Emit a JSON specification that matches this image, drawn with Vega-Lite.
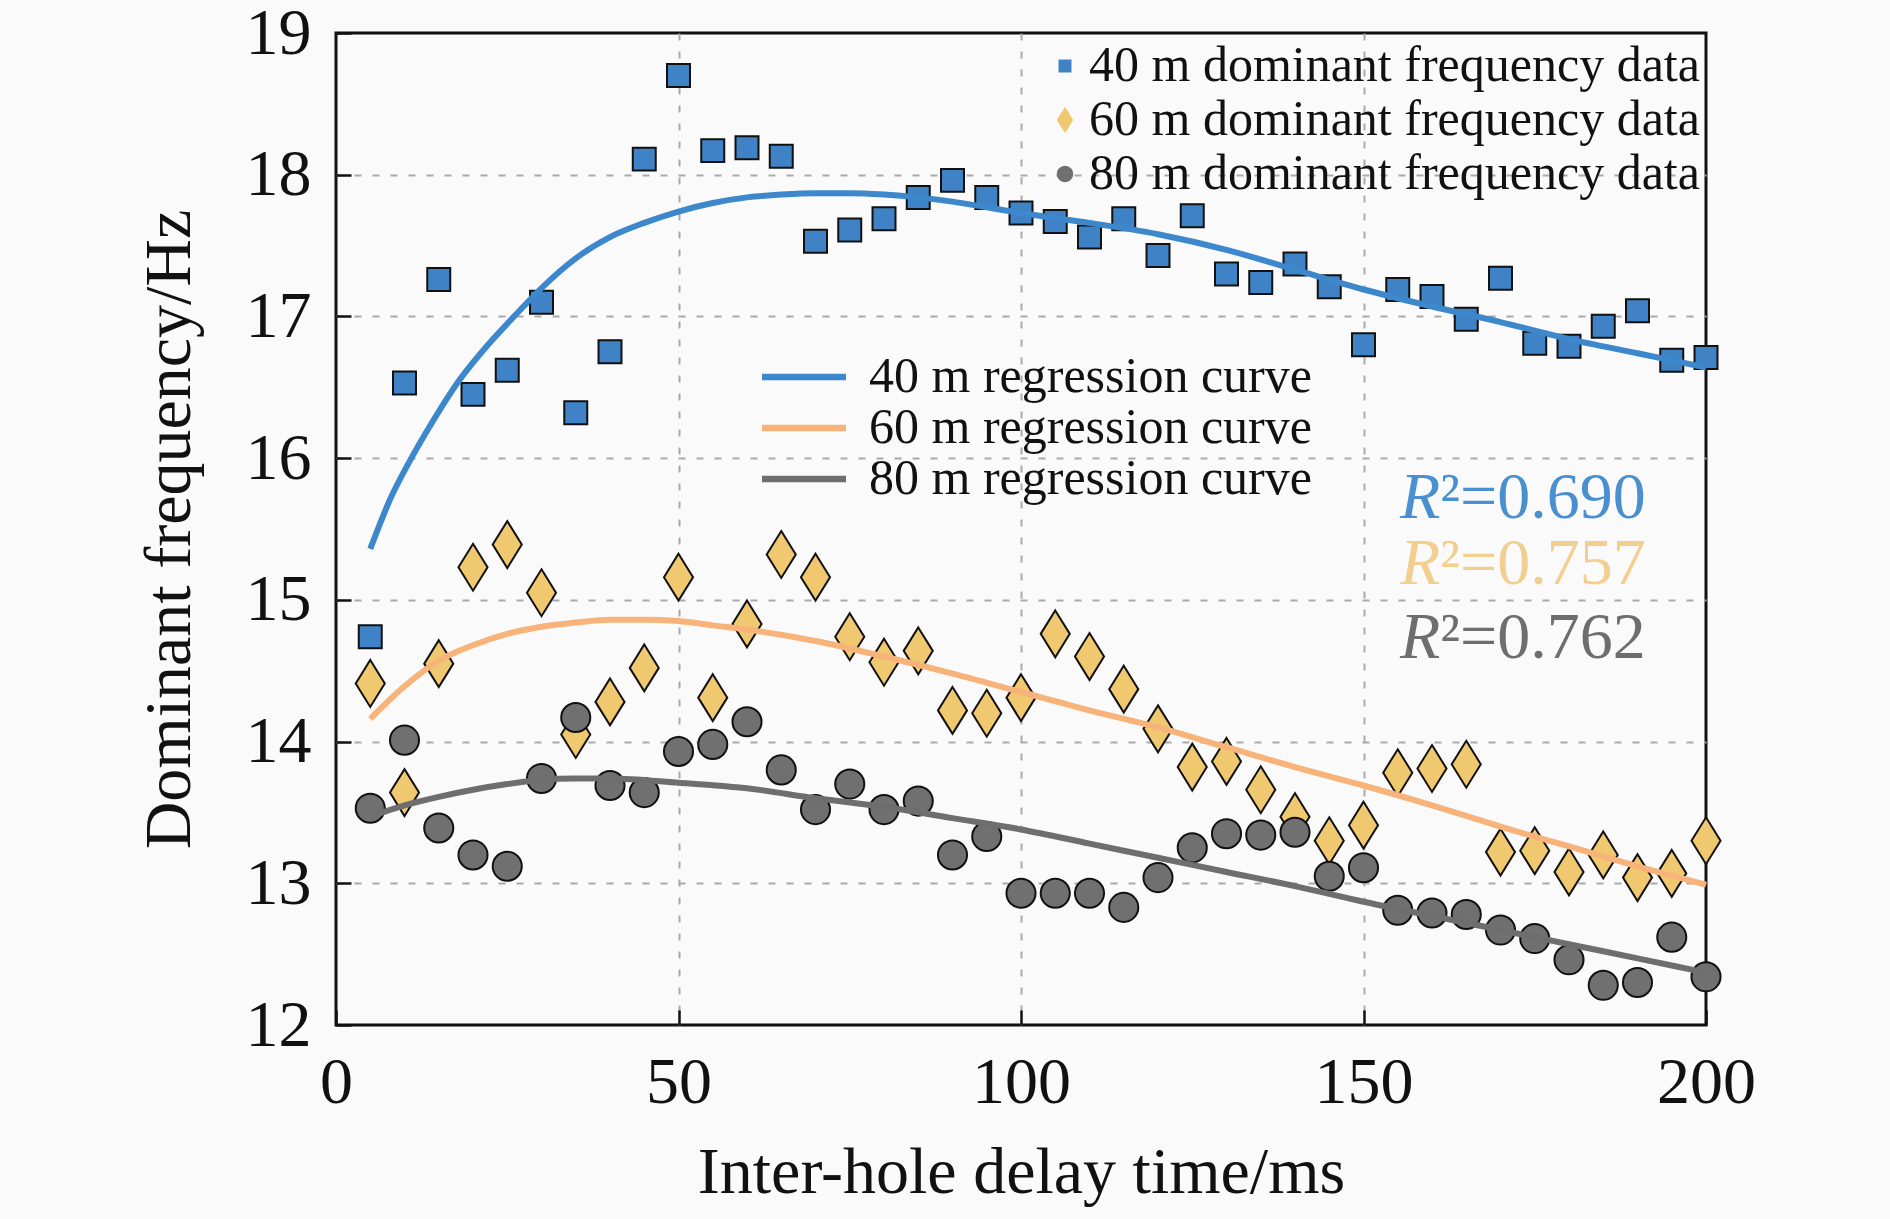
{
  "$schema": "https://vega.github.io/schema/vega-lite/v6.json",
  "width": 1370,
  "height": 992,
  "autosize": {"type": "none"},
  "padding": {"left": 336, "top": 33, "right": 184, "bottom": 194},
  "background": "#fafafa",
  "config": {
    "font": "Liberation Serif",
    "view": {"stroke": "#111111", "strokeWidth": 3},
    "axis": {
      "domain": false,
      "labelFont": "Liberation Serif",
      "labelFontSize": 66,
      "labelColor": "#111111",
      "labelFlush": false,
      "titleFont": "Liberation Serif",
      "titleFontSize": 66,
      "titleFontWeight": "normal",
      "titleColor": "#111111",
      "tickColor": "#111111",
      "tickWidth": 2.5,
      "tickSize": -15,
      "labelPadding": 40,
      "grid": true,
      "gridColor": "#aaaaaa",
      "gridDash": [7, 11],
      "gridWidth": 2
    },
    "legend": {
      "labelFont": "Liberation Serif",
      "labelFontSize": 50,
      "labelColor": "#111111",
      "labelLimit": 0,
      "padding": 0,
      "title": null
    }
  },
  "datasets": {
    "points": [
      {"d": "40 m", "t": 5, "f": 14.74}, {"d": "40 m", "t": 10, "f": 16.53}, {"d": "40 m", "t": 15, "f": 17.26}, {"d": "40 m", "t": 20, "f": 16.45},
      {"d": "40 m", "t": 25, "f": 16.62}, {"d": "40 m", "t": 30, "f": 17.10}, {"d": "40 m", "t": 35, "f": 16.32}, {"d": "40 m", "t": 40, "f": 16.75},
      {"d": "40 m", "t": 45, "f": 18.11}, {"d": "40 m", "t": 50, "f": 18.70}, {"d": "40 m", "t": 55, "f": 18.17}, {"d": "40 m", "t": 60, "f": 18.19},
      {"d": "40 m", "t": 65, "f": 18.13}, {"d": "40 m", "t": 70, "f": 17.53}, {"d": "40 m", "t": 75, "f": 17.61}, {"d": "40 m", "t": 80, "f": 17.69},
      {"d": "40 m", "t": 85, "f": 17.84}, {"d": "40 m", "t": 90, "f": 17.96}, {"d": "40 m", "t": 95, "f": 17.84}, {"d": "40 m", "t": 100, "f": 17.73},
      {"d": "40 m", "t": 105, "f": 17.67}, {"d": "40 m", "t": 110, "f": 17.56}, {"d": "40 m", "t": 115, "f": 17.69}, {"d": "40 m", "t": 120, "f": 17.43},
      {"d": "40 m", "t": 125, "f": 17.71}, {"d": "40 m", "t": 130, "f": 17.30}, {"d": "40 m", "t": 135, "f": 17.24}, {"d": "40 m", "t": 140, "f": 17.37},
      {"d": "40 m", "t": 145, "f": 17.21}, {"d": "40 m", "t": 150, "f": 16.80}, {"d": "40 m", "t": 155, "f": 17.19}, {"d": "40 m", "t": 160, "f": 17.14},
      {"d": "40 m", "t": 165, "f": 16.98}, {"d": "40 m", "t": 170, "f": 17.27}, {"d": "40 m", "t": 175, "f": 16.81}, {"d": "40 m", "t": 180, "f": 16.79},
      {"d": "40 m", "t": 185, "f": 16.93}, {"d": "40 m", "t": 190, "f": 17.04}, {"d": "40 m", "t": 195, "f": 16.69}, {"d": "40 m", "t": 200, "f": 16.71},
      {"d": "60 m", "t": 5, "f": 14.41}, {"d": "60 m", "t": 10, "f": 13.64}, {"d": "60 m", "t": 15, "f": 14.55}, {"d": "60 m", "t": 20, "f": 15.23},
      {"d": "60 m", "t": 25, "f": 15.39}, {"d": "60 m", "t": 30, "f": 15.05}, {"d": "60 m", "t": 35, "f": 14.05}, {"d": "60 m", "t": 40, "f": 14.28},
      {"d": "60 m", "t": 45, "f": 14.52}, {"d": "60 m", "t": 50, "f": 15.16}, {"d": "60 m", "t": 55, "f": 14.31}, {"d": "60 m", "t": 60, "f": 14.83},
      {"d": "60 m", "t": 65, "f": 15.32}, {"d": "60 m", "t": 70, "f": 15.16}, {"d": "60 m", "t": 75, "f": 14.74}, {"d": "60 m", "t": 80, "f": 14.56},
      {"d": "60 m", "t": 85, "f": 14.64}, {"d": "60 m", "t": 90, "f": 14.22}, {"d": "60 m", "t": 95, "f": 14.20}, {"d": "60 m", "t": 100, "f": 14.31},
      {"d": "60 m", "t": 105, "f": 14.76}, {"d": "60 m", "t": 110, "f": 14.60}, {"d": "60 m", "t": 115, "f": 14.37}, {"d": "60 m", "t": 120, "f": 14.09},
      {"d": "60 m", "t": 125, "f": 13.82}, {"d": "60 m", "t": 130, "f": 13.86}, {"d": "60 m", "t": 135, "f": 13.66}, {"d": "60 m", "t": 140, "f": 13.47},
      {"d": "60 m", "t": 145, "f": 13.30}, {"d": "60 m", "t": 150, "f": 13.41}, {"d": "60 m", "t": 155, "f": 13.78}, {"d": "60 m", "t": 160, "f": 13.81},
      {"d": "60 m", "t": 165, "f": 13.84}, {"d": "60 m", "t": 170, "f": 13.22}, {"d": "60 m", "t": 175, "f": 13.23}, {"d": "60 m", "t": 180, "f": 13.08},
      {"d": "60 m", "t": 185, "f": 13.20}, {"d": "60 m", "t": 190, "f": 13.04}, {"d": "60 m", "t": 195, "f": 13.07}, {"d": "60 m", "t": 200, "f": 13.30},
      {"d": "80 m", "t": 5, "f": 13.53}, {"d": "80 m", "t": 10, "f": 14.01}, {"d": "80 m", "t": 15, "f": 13.39}, {"d": "80 m", "t": 20, "f": 13.20},
      {"d": "80 m", "t": 25, "f": 13.12}, {"d": "80 m", "t": 30, "f": 13.74}, {"d": "80 m", "t": 35, "f": 14.17}, {"d": "80 m", "t": 40, "f": 13.69},
      {"d": "80 m", "t": 45, "f": 13.64}, {"d": "80 m", "t": 50, "f": 13.93}, {"d": "80 m", "t": 55, "f": 13.98}, {"d": "80 m", "t": 60, "f": 14.14},
      {"d": "80 m", "t": 65, "f": 13.80}, {"d": "80 m", "t": 70, "f": 13.52}, {"d": "80 m", "t": 75, "f": 13.70}, {"d": "80 m", "t": 80, "f": 13.52},
      {"d": "80 m", "t": 85, "f": 13.58}, {"d": "80 m", "t": 90, "f": 13.20}, {"d": "80 m", "t": 95, "f": 13.33}, {"d": "80 m", "t": 100, "f": 12.93},
      {"d": "80 m", "t": 105, "f": 12.93}, {"d": "80 m", "t": 110, "f": 12.93}, {"d": "80 m", "t": 115, "f": 12.83}, {"d": "80 m", "t": 120, "f": 13.04},
      {"d": "80 m", "t": 125, "f": 13.25}, {"d": "80 m", "t": 130, "f": 13.35}, {"d": "80 m", "t": 135, "f": 13.34}, {"d": "80 m", "t": 140, "f": 13.36},
      {"d": "80 m", "t": 145, "f": 13.05}, {"d": "80 m", "t": 150, "f": 13.11}, {"d": "80 m", "t": 155, "f": 12.81}, {"d": "80 m", "t": 160, "f": 12.79},
      {"d": "80 m", "t": 165, "f": 12.78}, {"d": "80 m", "t": 170, "f": 12.67}, {"d": "80 m", "t": 175, "f": 12.61}, {"d": "80 m", "t": 180, "f": 12.46},
      {"d": "80 m", "t": 185, "f": 12.28}, {"d": "80 m", "t": 190, "f": 12.30}, {"d": "80 m", "t": 195, "f": 12.62}, {"d": "80 m", "t": 200, "f": 12.34}
    ],
    "curves": [
      {"c": "40 m", "t": 5, "f": 15.36}, {"c": "40 m", "t": 8, "f": 15.72}, {"c": "40 m", "t": 11, "f": 16.0}, {"c": "40 m", "t": 14, "f": 16.25},
      {"c": "40 m", "t": 18, "f": 16.55}, {"c": "40 m", "t": 22, "f": 16.79}, {"c": "40 m", "t": 26, "f": 17.0}, {"c": "40 m", "t": 30, "f": 17.2},
      {"c": "40 m", "t": 35, "f": 17.41}, {"c": "40 m", "t": 40, "f": 17.56}, {"c": "40 m", "t": 45, "f": 17.66}, {"c": "40 m", "t": 50, "f": 17.74},
      {"c": "40 m", "t": 55, "f": 17.8}, {"c": "40 m", "t": 60, "f": 17.84}, {"c": "40 m", "t": 65, "f": 17.86}, {"c": "40 m", "t": 70, "f": 17.87},
      {"c": "40 m", "t": 75, "f": 17.87}, {"c": "40 m", "t": 80, "f": 17.86}, {"c": "40 m", "t": 85, "f": 17.84}, {"c": "40 m", "t": 90, "f": 17.81},
      {"c": "40 m", "t": 95, "f": 17.77}, {"c": "40 m", "t": 100, "f": 17.73}, {"c": "40 m", "t": 110, "f": 17.66}, {"c": "40 m", "t": 120, "f": 17.58},
      {"c": "40 m", "t": 130, "f": 17.47}, {"c": "40 m", "t": 140, "f": 17.33}, {"c": "40 m", "t": 150, "f": 17.19}, {"c": "40 m", "t": 160, "f": 17.07},
      {"c": "40 m", "t": 170, "f": 16.96}, {"c": "40 m", "t": 180, "f": 16.84}, {"c": "40 m", "t": 190, "f": 16.74}, {"c": "40 m", "t": 200, "f": 16.64},
      {"c": "60 m", "t": 5, "f": 14.16}, {"c": "60 m", "t": 10, "f": 14.39}, {"c": "60 m", "t": 15, "f": 14.57}, {"c": "60 m", "t": 20, "f": 14.68},
      {"c": "60 m", "t": 25, "f": 14.76}, {"c": "60 m", "t": 30, "f": 14.81}, {"c": "60 m", "t": 35, "f": 14.84}, {"c": "60 m", "t": 40, "f": 14.86},
      {"c": "60 m", "t": 45, "f": 14.86}, {"c": "60 m", "t": 50, "f": 14.85}, {"c": "60 m", "t": 55, "f": 14.82}, {"c": "60 m", "t": 60, "f": 14.79},
      {"c": "60 m", "t": 70, "f": 14.71}, {"c": "60 m", "t": 80, "f": 14.6}, {"c": "60 m", "t": 90, "f": 14.48}, {"c": "60 m", "t": 100, "f": 14.35},
      {"c": "60 m", "t": 110, "f": 14.22}, {"c": "60 m", "t": 120, "f": 14.1}, {"c": "60 m", "t": 130, "f": 13.96}, {"c": "60 m", "t": 140, "f": 13.82},
      {"c": "60 m", "t": 150, "f": 13.69}, {"c": "60 m", "t": 160, "f": 13.55}, {"c": "60 m", "t": 170, "f": 13.4}, {"c": "60 m", "t": 180, "f": 13.26},
      {"c": "60 m", "t": 190, "f": 13.12}, {"c": "60 m", "t": 200, "f": 12.99},
      {"c": "80 m", "t": 5, "f": 13.47}, {"c": "80 m", "t": 10, "f": 13.55}, {"c": "80 m", "t": 15, "f": 13.61}, {"c": "80 m", "t": 20, "f": 13.66},
      {"c": "80 m", "t": 25, "f": 13.7}, {"c": "80 m", "t": 30, "f": 13.73}, {"c": "80 m", "t": 35, "f": 13.74}, {"c": "80 m", "t": 40, "f": 13.74},
      {"c": "80 m", "t": 50, "f": 13.71}, {"c": "80 m", "t": 60, "f": 13.67}, {"c": "80 m", "t": 70, "f": 13.6}, {"c": "80 m", "t": 80, "f": 13.54},
      {"c": "80 m", "t": 90, "f": 13.46}, {"c": "80 m", "t": 100, "f": 13.38}, {"c": "80 m", "t": 110, "f": 13.28}, {"c": "80 m", "t": 120, "f": 13.18},
      {"c": "80 m", "t": 130, "f": 13.08}, {"c": "80 m", "t": 140, "f": 12.98}, {"c": "80 m", "t": 150, "f": 12.87}, {"c": "80 m", "t": 160, "f": 12.77},
      {"c": "80 m", "t": 170, "f": 12.67}, {"c": "80 m", "t": 180, "f": 12.57}, {"c": "80 m", "t": 190, "f": 12.47}, {"c": "80 m", "t": 200, "f": 12.37}
    ],
    "r2": [
      {"k": "40 m", "t": 161.2, "f": 15.58, "s": "²=0.690"},
      {"k": "60 m", "t": 161.2, "f": 15.11, "s": "²=0.757"},
      {"k": "80 m", "t": 161.2, "f": 14.59, "s": "²=0.762"}
    ]
  },
  "layer": [
    {
      "data": {"name": "points"},
      "mark": {"type": "point", "filled": true, "opacity": 1, "stroke": "#111111", "strokeWidth": 2, "size": 2200},
      "encoding": {
        "x": {
          "field": "t", "type": "quantitative",
          "scale": {"domain": [0, 200], "nice": false, "zero": false},
          "axis": {
            "values": [0, 50, 100, 150, 200], "format": "d",
            "title": "Inter-hole delay time/ms", "titlePadding": 25,
            "gridOpacity": {"condition": {"test": "datum.value <= 0 || datum.value >= 200", "value": 0}, "value": 1}
          }
        },
        "y": {
          "field": "f", "type": "quantitative",
          "scale": {"domain": [12, 19], "nice": false, "zero": false},
          "axis": {
            "values": [12, 13, 14, 15, 16, 17, 18, 19], "format": "d",
            "title": "Dominant frequency/Hz", "titlePadding": 42,
            "gridOpacity": {"condition": {"test": "datum.value <= 12 || datum.value >= 19", "value": 0}, "value": 1}
          }
        },
        "shape": {
          "field": "d", "type": "nominal",
          "scale": {
            "domain": ["40 m", "60 m", "80 m"],
            "range": [
              "M-0.49,-0.49H0.49V0.49H-0.49Z",
              "M0,-1L0.62,0L0,1L-0.62,0Z",
              "M0.62,0A0.62,0.62 0 1,1 -0.62,0A0.62,0.62 0 1,1 0.62,0Z"
            ]
          },
          "legend": {
            "orient": "none", "legendX": 704, "legendY": 8, "direction": "vertical",
            "symbolSize": 700, "symbolStrokeColor": "#111111", "symbolStrokeWidth": 1.5,
            "labelOffset": -1, "rowPadding": 4,
            "labelExpr": "datum.label + ' dominant frequency data'"
          }
        },
        "fill": {
          "field": "d", "type": "nominal",
          "scale": {"domain": ["40 m", "60 m", "80 m"], "range": ["#3f82c5", "#f0c870", "#707070"]},
          "legend": {
            "orient": "none", "legendX": 704, "legendY": 8, "direction": "vertical",
            "symbolSize": 700, "symbolStrokeColor": "#111111", "symbolStrokeWidth": 1.5,
            "labelOffset": -1, "rowPadding": 4,
            "labelExpr": "datum.label + ' dominant frequency data'"
          }
        }
      }
    },
    {
      "data": {"name": "curves"},
      "mark": {"type": "line", "strokeWidth": 6, "interpolate": "monotone"},
      "encoding": {
        "x": {"field": "t", "type": "quantitative"},
        "y": {"field": "f", "type": "quantitative"},
        "stroke": {
          "field": "c", "type": "nominal",
          "scale": {"range": ["#3d88cc", "#f7b37a", "#6e6e6e"]},
          "legend": {
            "orient": "none", "legendX": 443, "legendY": 319, "direction": "vertical",
            "symbolType": "M-4,0H4", "symbolSize": 441, "symbolStrokeWidth": 6.5,
            "labelOffset": 40, "rowPadding": 1,
            "labelExpr": "datum.label + ' regression curve'"
          }
        }
      }
    },
    {
      "data": {"name": "r2"},
      "mark": {"type": "text", "text": "R", "fontStyle": "italic", "fontSize": 66, "align": "right", "baseline": "alphabetic", "font": "Liberation Serif"},
      "encoding": {
        "x": {"field": "t", "type": "quantitative"},
        "y": {"field": "f", "type": "quantitative"},
        "color": {
          "field": "k", "type": "nominal",
          "scale": {"domain": ["40 m", "60 m", "80 m"], "range": ["#4a8fd0", "#f2cf8e", "#6e6e6e"]},
          "legend": null
        }
      }
    },
    {
      "data": {"name": "r2"},
      "mark": {"type": "text", "fontSize": 66, "align": "left", "baseline": "alphabetic", "font": "Liberation Serif"},
      "encoding": {
        "x": {"field": "t", "type": "quantitative"},
        "y": {"field": "f", "type": "quantitative"},
        "text": {"field": "s", "type": "nominal"},
        "color": {"field": "k", "type": "nominal", "legend": null}
      }
    }
  ]
}
